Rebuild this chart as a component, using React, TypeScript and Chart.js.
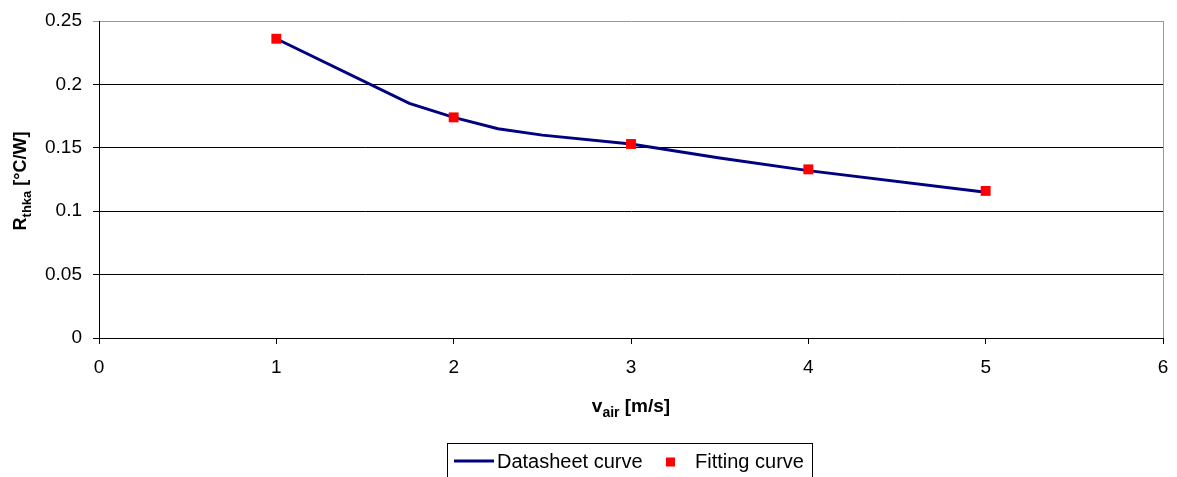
import React, { useEffect, useRef } from "react";
import { Chart, registerables } from "chart.js";

Chart.register(...registerables);

const datasheetX = [1, 1.75, 2, 2.25, 2.5, 3, 3.5, 4, 5];
const datasheetY = [0.236, 0.185, 0.174, 0.165, 0.16, 0.153, 0.142, 0.132, 0.115];
const fittingX = [1, 2, 3, 4, 5];
const fittingY = [0.236, 0.174, 0.153, 0.133, 0.116];
const yTicks = [0, 0.05, 0.1, 0.15, 0.2, 0.25];
const xTicks = [0, 1, 2, 3, 4, 5, 6];
const seriesLabels = ["Datasheet curve", "Fitting curve"];

const FONT = "'Liberation Sans', Arial, sans-serif";

const titlesAndLegend = {
  id: "titlesAndLegend",
  afterDraw(chart: any) {
    const ctx = chart.ctx as CanvasRenderingContext2D;
    ctx.save();
    ctx.fillStyle = "#000";
    // Y axis title (rotated)
    ctx.save();
    ctx.translate(26, 181);
    ctx.rotate(-Math.PI / 2);
    const yMain = "R";
    const ySub = "thka";
    const yRest = " [°C/W]";
    ctx.font = `bold 18px ${FONT}`;
    const wR = ctx.measureText(yMain).width;
    const wRest = ctx.measureText(yRest).width;
    ctx.font = `bold 13px ${FONT}`;
    const wSub = ctx.measureText(ySub).width;
    const total = wR + wSub + wRest;
    let x = -total / 2;
    ctx.textBaseline = "alphabetic";
    ctx.textAlign = "left";
    ctx.font = `bold 18px ${FONT}`;
    ctx.fillText(yMain, x, 0);
    x += wR;
    ctx.font = `bold 13px ${FONT}`;
    ctx.fillText(ySub, x, 5);
    x += wSub;
    ctx.font = `bold 18px ${FONT}`;
    ctx.fillText(yRest, x, 0);
    ctx.restore();

    // X axis title
    {
      const main = "v";
      const sub = "air";
      const rest = " [m/s]";
      ctx.font = `bold 19px ${FONT}`;
      const w1 = ctx.measureText(main).width;
      const w3 = ctx.measureText(rest).width;
      ctx.font = `bold 14px ${FONT}`;
      const w2 = ctx.measureText(sub).width;
      let xx = 631 - (w1 + w2 + w3) / 2;
      const base = 412;
      ctx.textAlign = "left";
      ctx.font = `bold 19px ${FONT}`;
      ctx.fillText(main, xx, base);
      xx += w1;
      ctx.font = `bold 14px ${FONT}`;
      ctx.fillText(sub, xx, base + 5);
      xx += w2;
      ctx.font = `bold 19px ${FONT}`;
      ctx.fillText(rest, xx, base);
    }

    // Legend
    const ds = chart.data.datasets;
    const boxL = 447.5, boxT = 443.5, boxR = 812.5, boxB = 490;
    ctx.strokeStyle = "#000";
    ctx.lineWidth = 1;
    ctx.strokeRect(boxL, boxT, boxR - boxL, boxB - boxT);
    ctx.font = `20px ${FONT}`;
    ctx.textBaseline = "middle";
    ctx.textAlign = "left";
    // line sample
    ctx.strokeStyle = ds[1].borderColor;
    ctx.lineWidth = 3;
    ctx.beginPath();
    ctx.moveTo(454, 461);
    ctx.lineTo(494, 461);
    ctx.stroke();
    ctx.fillStyle = "#000";
    ctx.fillText(ds[1].label, 497, 462);
    // marker sample
    ctx.fillStyle = ds[0].backgroundColor;
    ctx.fillRect(666, 457.5, 9, 9);
    ctx.fillStyle = "#000";
    ctx.fillText(ds[0].label, 695, 462);

    // plot area right border
    const a = chart.chartArea;
    ctx.strokeStyle = "#999";
    ctx.lineWidth = 1;
    ctx.beginPath();
    ctx.moveTo(a.right + 0.5, a.top);
    ctx.lineTo(a.right + 0.5, a.bottom);
    ctx.stroke();
    ctx.restore();
  },
};

export default function App() {
  const ref = useRef<HTMLCanvasElement | null>(null);
  useEffect(() => {
    document.body.style.margin = "0";
    const canvas = ref.current!;
    const chart = new Chart(canvas, {
      type: "scatter",
      data: {
        datasets: [
          {
            label: seriesLabels[1],
            data: fittingX.map((x, i) => ({ x, y: fittingY[i] })),
            backgroundColor: "#ff0000",
            borderColor: "#ff0000",
            pointStyle: "rect",
            pointRadius: 7,
            pointBorderWidth: 0,
            showLine: false,
            order: 0,
          },
          {
            label: seriesLabels[0],
            data: datasheetX.map((x, i) => ({ x, y: datasheetY[i] })),
            borderColor: "#000080",
            backgroundColor: "#000080",
            borderWidth: 3,
            pointRadius: 0,
            showLine: true,
            tension: 0,
            order: 1,
          },
        ],
      },
      options: {
        responsive: false,
        animation: false,
        events: [],
        layout: { padding: { left: 0, top: 21, right: 14, bottom: 0 } },
        plugins: {
          legend: { display: false },
          tooltip: { enabled: false },
          title: { display: false },
        },
        scales: {
          x: {
            type: "linear",
            min: 0,
            max: 6,
            afterBuildTicks: (s: any) => {
              s.ticks = xTicks.map((v) => ({ value: v }));
            },
            afterFit: (s: any) => {
              s.height = 139;
              s.paddingLeft = 0;
              s.paddingRight = 0;
            },
            ticks: {
              color: "#000",
              font: { family: FONT, size: 19 },
              padding: 12,
              maxRotation: 0,
              callback: (v: any) => String(v),
            },
            grid: {
              color: (c: any) => (c.tick && c.tick.value === 6 ? "#999" : "rgba(0,0,0,0)"),
              tickColor: "#000",
              tickLength: 6,
              lineWidth: 1,
            },
            border: { color: "#000", width: 1 },
          },
          y: {
            type: "linear",
            min: 0,
            max: 0.25,
            afterBuildTicks: (s: any) => {
              s.ticks = yTicks.map((v) => ({ value: v }));
            },
            afterFit: (s: any) => {
              s.width = 99;
              s.paddingTop = 0;
              s.paddingBottom = 0;
            },
            ticks: {
              color: "#000",
              font: { family: FONT, size: 19 },
              padding: 11,
              callback: (v: any) => String(+Number(v).toFixed(2)),
            },
            grid: {
              color: (c: any) => (c.tick && c.tick.value === 0.25 ? "#999" : "#000"),
              tickColor: (c: any) => (c.tick && c.tick.value === 0.25 ? "#999" : "#000"),
              tickLength: 6,
              lineWidth: 1,
            },
            border: { color: "#000", width: 1 },
          },
        },
      },
      plugins: [titlesAndLegend],
    });
    return () => chart.destroy();
  }, []);
  return (
    <div style={{ position: "absolute", left: 0, top: 0, width: 1177, height: 477, background: "#fff" }}>
      <canvas ref={ref} width={1177} height={477} style={{ display: "block", width: 1177, height: 477 }} />
    </div>
  );
}
